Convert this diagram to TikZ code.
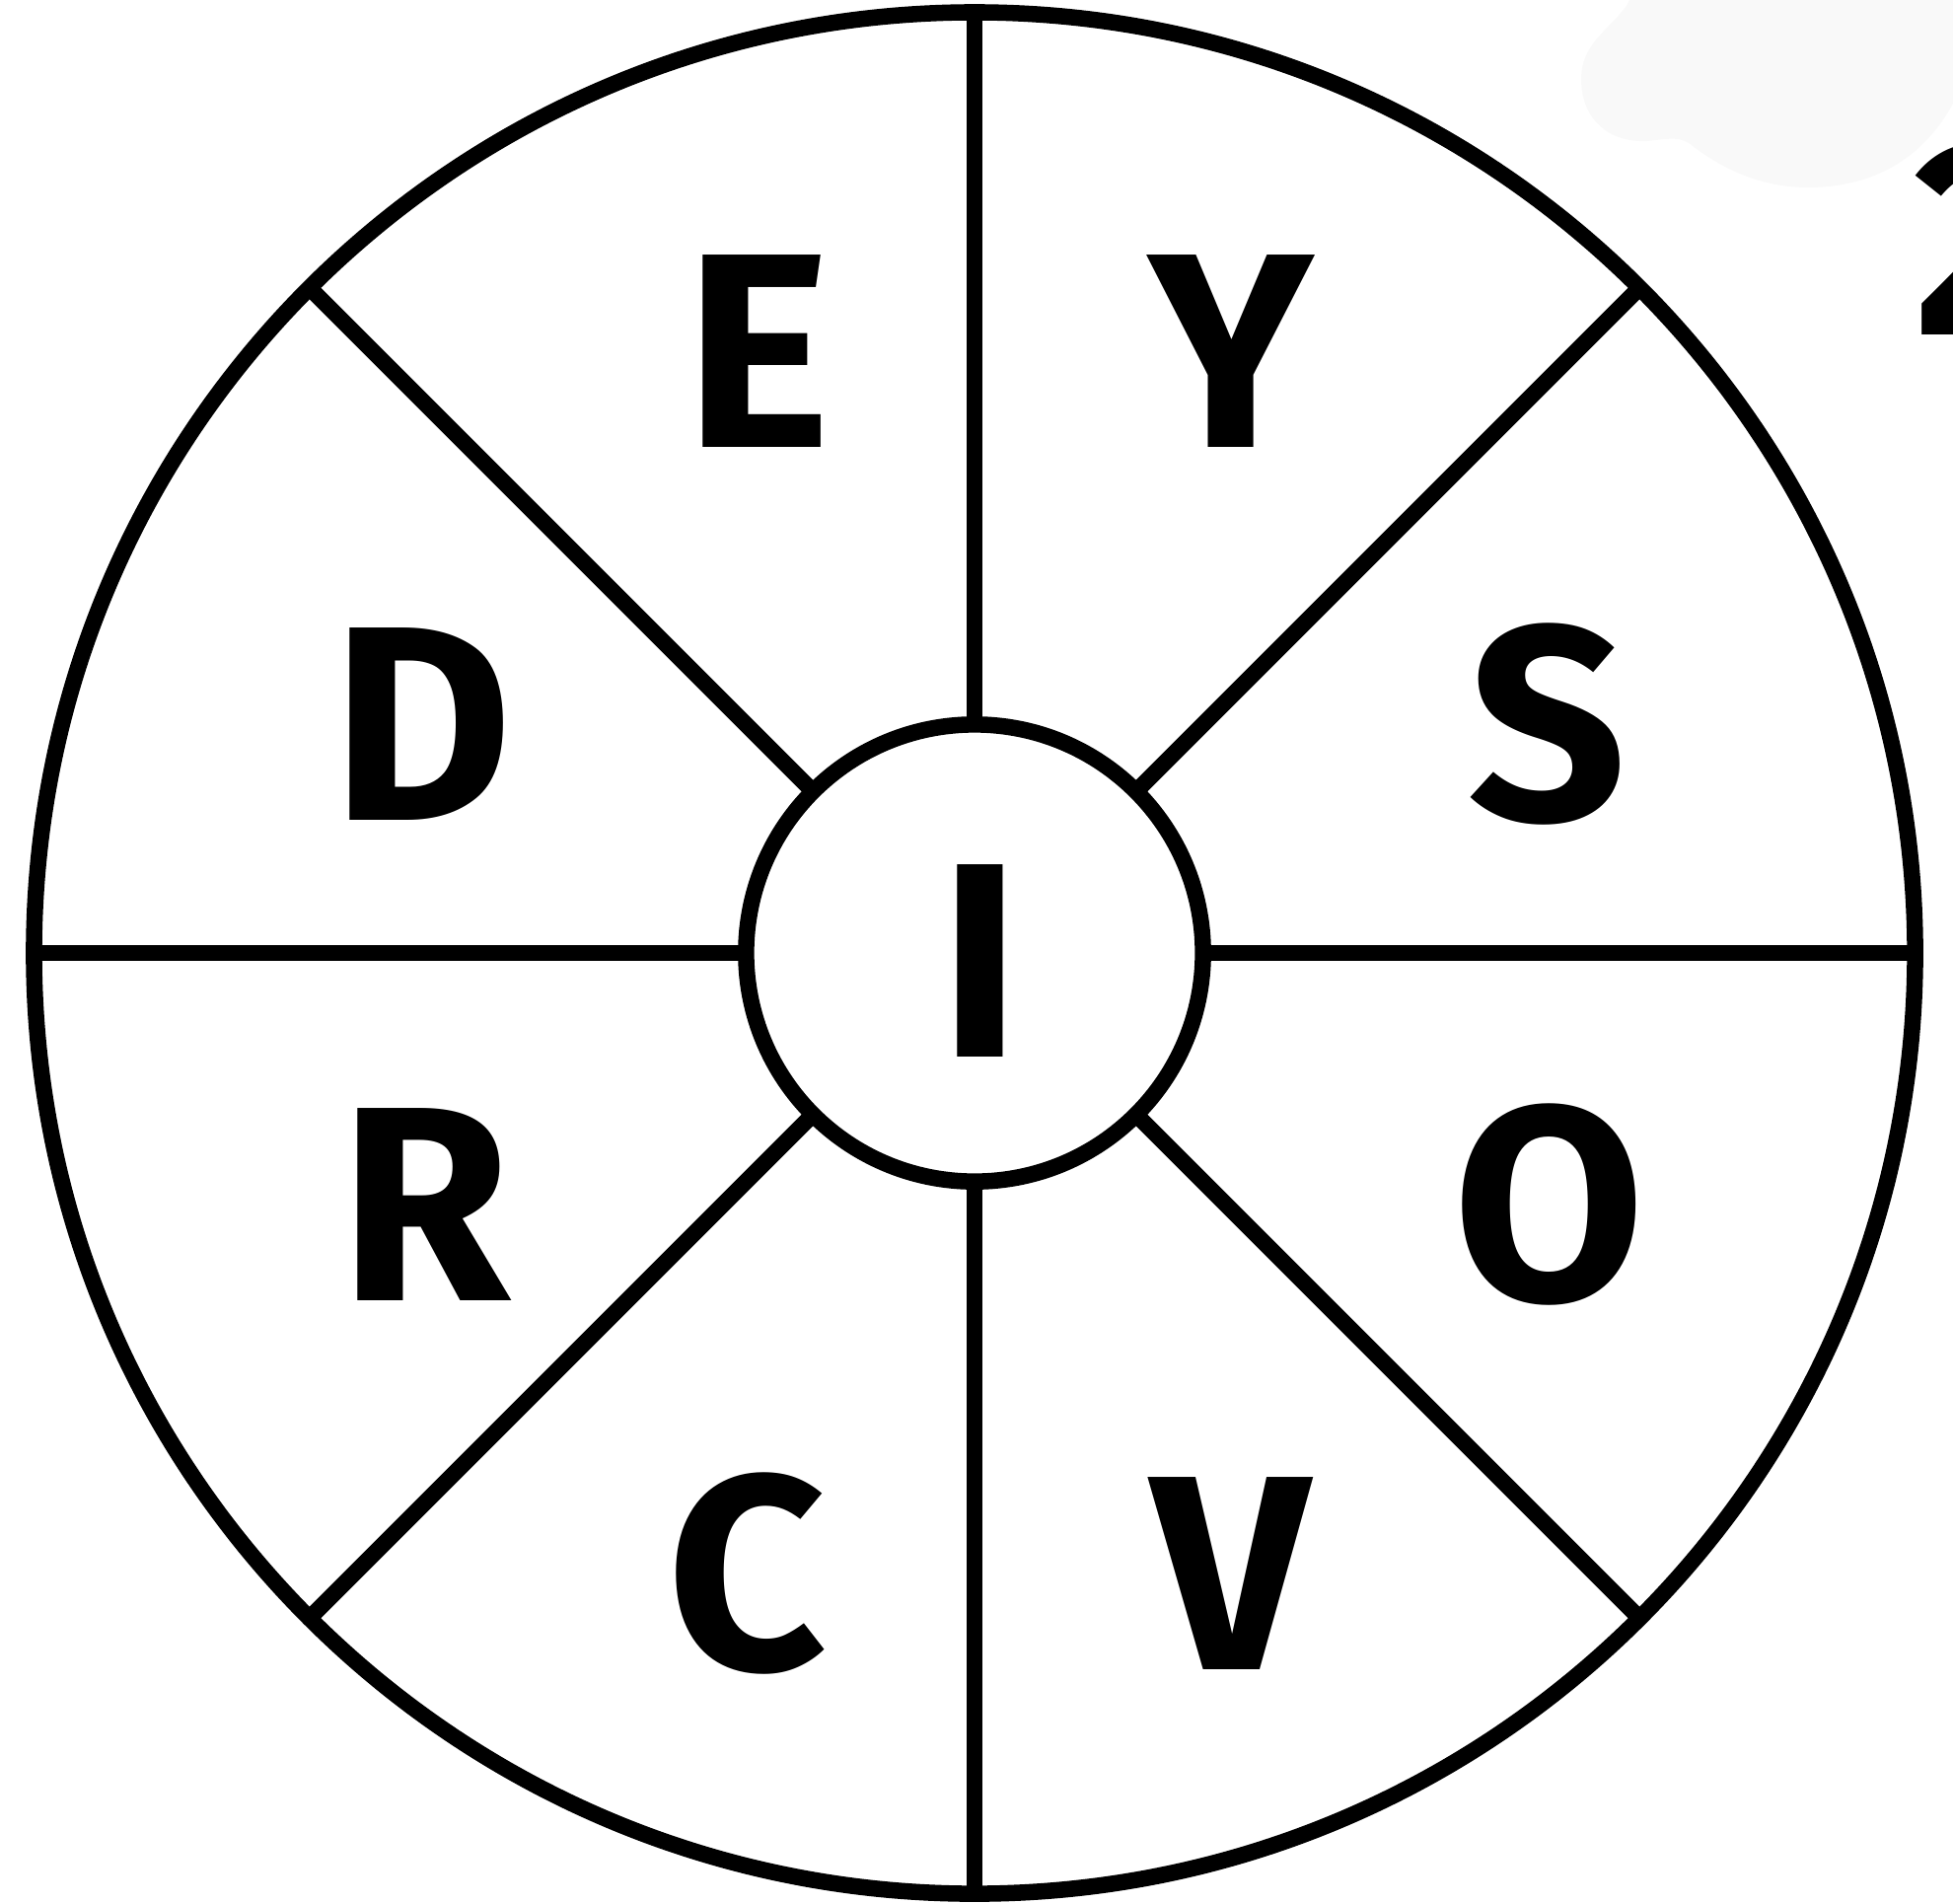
\documentclass[tikz,border=0pt]{standalone}
\usepackage{fontspec}
\setmainfont{Fira Sans}
\definecolor{smudge}{RGB}{249,249,249}

\begin{document}
\begin{tikzpicture}[x=0.01cm, y=-0.01cm,
  every node/.style={inner sep=0pt, outer sep=0pt},
  wheelline/.style={line width=4.7pt, line cap=butt},
  wheelletter/.style={font=\fontsize{80}{82}\selectfont\bfseries}]
  \useasboundingbox (0,0) rectangle (1980,1929);
  % faint smudge in the top right corner
  \fill[smudge] (1652,0)
    .. controls (1640,25) and (1603,40) .. (1603,80)
    .. controls (1603,120) and (1630,145) .. (1670,143)
    .. controls (1690,141) and (1700,138) .. (1712,145)
    .. controls (1750,175) and (1790,190) .. (1833,190)
    .. controls (1900,190) and (1950,160) .. (1980,105)
    -- (1980,0) -- cycle;
  % rim and hub of the wheel
  \node[circle, wheelline, draw, minimum size=19.06cm] (rim) at (988,966) {};
  \node[circle, wheelline, draw, minimum size=4.63cm] (hub) at (988,966) {};
  % spokes
  \foreach \a in {45,90,...,360} {
    \draw[wheelline] (hub.\a) -- (rim.\a);
  }
  % letters round the wheel
  \foreach \l/\x/\y in {E/768/356, Y/1248/356, D/428/734, S/1569/734,
                        R/431/1221, O/1571/1221, C/757/1595, V/1248/1595} {
    \node[wheelletter] (l\l) at (\x,\y) {\l};
  }
  \node[wheelletter] (centre) at (994,974) {I};
  % cut-off number at the right edge
  \node[wheelletter, anchor=west] (num) at (1940,242) {2};
\end{tikzpicture}
\end{document}
